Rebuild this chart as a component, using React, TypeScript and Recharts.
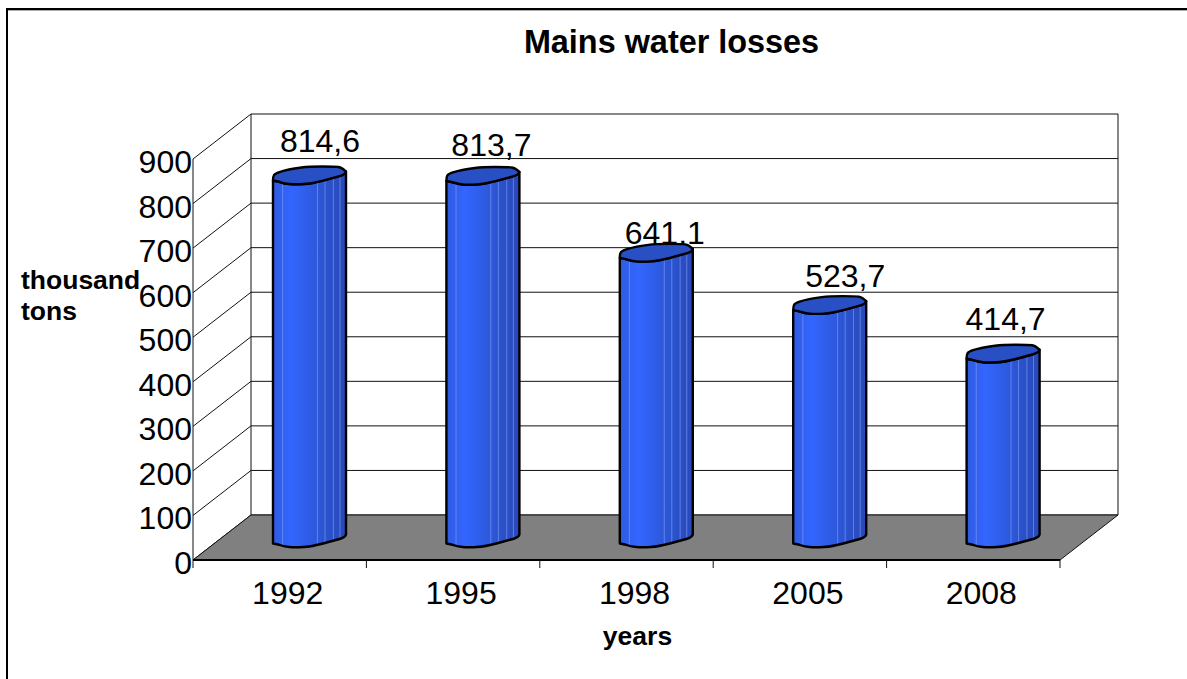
import { Bar, BarChart, CartesianGrid, XAxis, YAxis } from "recharts";

const years = ["1992", "1995", "1998", "2005", "2008"];
const losses = [814.6, 813.7, 641.1, 523.7, 414.7];
const yTicks = [0, 100, 200, 300, 400, 500, 600, 700, 800, 900];
// hand-placed data labels in the original, relative to the default spot
const labelNudgeX = [11, 9, 9, 16, 3];
const labelNudgeY = [0, 4, 15, 6, 0];

const chartData = years.map((year, i) => ({ year, loss: losses[i] }));

const WIDTH = 1187;
const HEIGHT = 679;
const PLOT_LEFT = 193;
const PLOT_WIDTH = 867;
const PLOT_HEIGHT = 401;
const FONT = "'Liberation Sans', Arial, sans-serif";
const DEPTH_X = 58;
const DEPTH_Y = 45;
const INK = "#111";

// cap outline of the faceted cylinder, in px for a 72px wide bar
const backRim = [[0, 6], [0, 2], [2, -1], [11, -4], [21, -6], [36, -8], [62, -8], [69, -7], [73, -3]];
const frontRim = [[73, -3], [72, 0], [61, 3], [39, 9], [22, 10], [11, 9], [6, 7], [0, 6]];
const slats = [0.134, 0.617, 0.722, 0.838, 0.93];

function rimY(fx: number) {
  const px = fx * 72;
  for (let i = 0; i < frontRim.length - 1; i++) {
    const [x1, y1] = frontRim[i];
    const [x2, y2] = frontRim[i + 1];
    if (px <= x1 && px >= x2 && x1 !== x2) return y1 + ((px - x1) * (y2 - y1)) / (x2 - x1);
  }
  return 0;
}

// rounds the corners of a point run, the first and last point stay put
function smooth(list: number[][]) {
  let d = ` L${list[0][0]},${list[0][1]}`;
  for (let i = 1; i < list.length - 1; i++) {
    const [cx, cy] = list[i];
    const [nx, ny] = list[i + 1];
    const endX = i === list.length - 2 ? nx : (cx + nx) / 2;
    const endY = i === list.length - 2 ? ny : (cy + ny) / 2;
    d += ` Q${cx},${cy} ${endX},${endY}`;
  }
  return d;
}

function Cylinder(props: any) {
  const { x, y, width, height, index, loss } = props;
  const left = x + DEPTH_X / 2;
  const top = y - DEPTH_Y / 2;
  const base = top + height;
  const k = width / 72;
  const place = (list: number[][], cy: number) => list.map(([px, py]) => [left + px * k, cy + py]);
  const body =
    `M${left},${top + 6}` +
    smooth(place([...frontRim].reverse(), base)) +
    smooth(place(frontRim, top)) +
    " Z";
  const cap = `M${left},${top + 6}` + smooth(place(backRim, top)) + smooth(place(frontRim, top)) + " Z";
  return (
    <g>
      <text
        x={left + width / 2 + labelNudgeX[index]}
        y={top - 23 + labelNudgeY[index]}
        textAnchor="middle"
        fontSize={32}
        fontFamily={FONT}
        fill="#000"
      >
        {String(loss).replace(".", ",")}
      </text>
      <path d={body} fill="url(#cylinderFill)" stroke="none" />
      {slats.map((fx) => (
        <line
          key={fx}
          x1={left + fx * width}
          x2={left + fx * width}
          y1={top}
          y2={base + rimY(fx)}
          stroke="#8fa8f5"
          strokeOpacity={0.55}
        />
      ))}
      <path d={body} fill="none" stroke="#000" strokeWidth={2.4} strokeLinejoin="round" />
      <path d={cap} fill="#2850c4" stroke="#000" strokeWidth={2.4} strokeLinejoin="round" />
    </g>
  );
}

// one horizontal grid entry becomes the whole 3D wall line, the zero entry adds the floor
function WallLine(props: any) {
  const { x1: x, y1: y } = props;
  return (
    <g>
      <line x1={x} x2={x + DEPTH_X} y1={y} y2={y - DEPTH_Y} stroke={INK} />
      <line x1={x + DEPTH_X} x2={x + DEPTH_X + PLOT_WIDTH} y1={y - DEPTH_Y} y2={y - DEPTH_Y} stroke={INK} />
      {Math.abs(y - (159 + PLOT_HEIGHT)) < 1 && (
        <g>
          <polygon
            points={`${x},${y} ${x + PLOT_WIDTH},${y} ${x + PLOT_WIDTH + DEPTH_X},${y - DEPTH_Y} ${x + DEPTH_X},${y - DEPTH_Y}`}
            fill="#808080"
            stroke={INK}
          />
          <line x1={x + DEPTH_X} x2={x + DEPTH_X} y1={y - DEPTH_Y} y2={y - DEPTH_Y - PLOT_HEIGHT} stroke={INK} />
          <line
            x1={x + DEPTH_X + PLOT_WIDTH}
            x2={x + DEPTH_X + PLOT_WIDTH}
            y1={y - DEPTH_Y}
            y2={y - DEPTH_Y - PLOT_HEIGHT}
            stroke={INK}
          />
        </g>
      )}
    </g>
  );
}

function ValueTick(props: any) {
  const { x, y, payload } = props;
  return (
    <text x={x - 1} y={y + 14} textAnchor="end" fontSize={32} fontFamily={FONT} fill="#000">
      {payload.value}
    </text>
  );
}

function YearTick(props: any) {
  const { x, y, index, payload } = props;
  const band = PLOT_WIDTH / years.length;
  return (
    <g>
      <line x1={x - band / 2} x2={x - band / 2} y1={y} y2={y + 8} stroke={INK} />
      {index === years.length - 1 && (
        <line x1={x + band / 2} x2={x + band / 2} y1={y} y2={y + 8} stroke={INK} />
      )}
      <text x={x + 8} y={y + 44} textAnchor="middle" fontSize={32} fontFamily={FONT} fill="#000">
        {payload.value}
      </text>
    </g>
  );
}

export default function App() {
  return (
    <div style={{ position: "absolute", left: 0, top: 0, width: WIDTH, height: HEIGHT, overflow: "hidden" }}>
      <BarChart
        width={WIDTH}
        height={HEIGHT}
        data={chartData}
        barSize={72}
        margin={{ left: PLOT_LEFT - 60, right: WIDTH - PLOT_LEFT - PLOT_WIDTH, top: 159, bottom: 79 }}
      >
        <defs>
          <linearGradient id="cylinderFill" x1="0" x2="1" y1="0" y2="0">
            <stop offset="0" stopColor="#2f5be0" />
            <stop offset="0.25" stopColor="#3366ff" />
            <stop offset="0.45" stopColor="#2f5eea" />
            <stop offset="0.7" stopColor="#2b54d0" />
            <stop offset="1" stopColor="#2848b8" />
          </linearGradient>
        </defs>
        <line x1={7} x2={WIDTH} y1={10.5} y2={10.5} stroke="#aaa" />
        <rect x={7} y={9} width={WIDTH} height={HEIGHT} fill="none" stroke="#000" strokeWidth={2} />
        <text x={671.5} y={53} textAnchor="middle" fontSize={32.4} fontWeight="bold" fontFamily={FONT} fill="#000">
          Mains water losses
        </text>
        <text x={21} y={289} fontSize={26.5} fontWeight="bold" fontFamily={FONT} fill="#000">
          <tspan x={21}>thousand</tspan>
          <tspan x={21} dy={31}>
            tons
          </tspan>
        </text>
        <text x={637.5} y={645} textAnchor="middle" fontSize={26.5} fontWeight="bold" fontFamily={FONT} fill="#000">
          years
        </text>
        <CartesianGrid vertical={false} horizontal={WallLine} syncWithTicks />
        <YAxis
          width={60}
          domain={[0, 900]}
          ticks={yTicks}
          tick={ValueTick}
          tickLine={false}
          tickSize={0}
          tickMargin={0}
          stroke={INK}
          interval={0}
        />
        <XAxis
          dataKey="year"
          height={40}
          tick={YearTick}
          tickLine={false}
          tickSize={0}
          tickMargin={0}
          stroke="#000"
          strokeWidth={2}
          interval={0}
        />
        <Bar dataKey="loss" shape={Cylinder} isAnimationActive={false} />
      </BarChart>
    </div>
  );
}
